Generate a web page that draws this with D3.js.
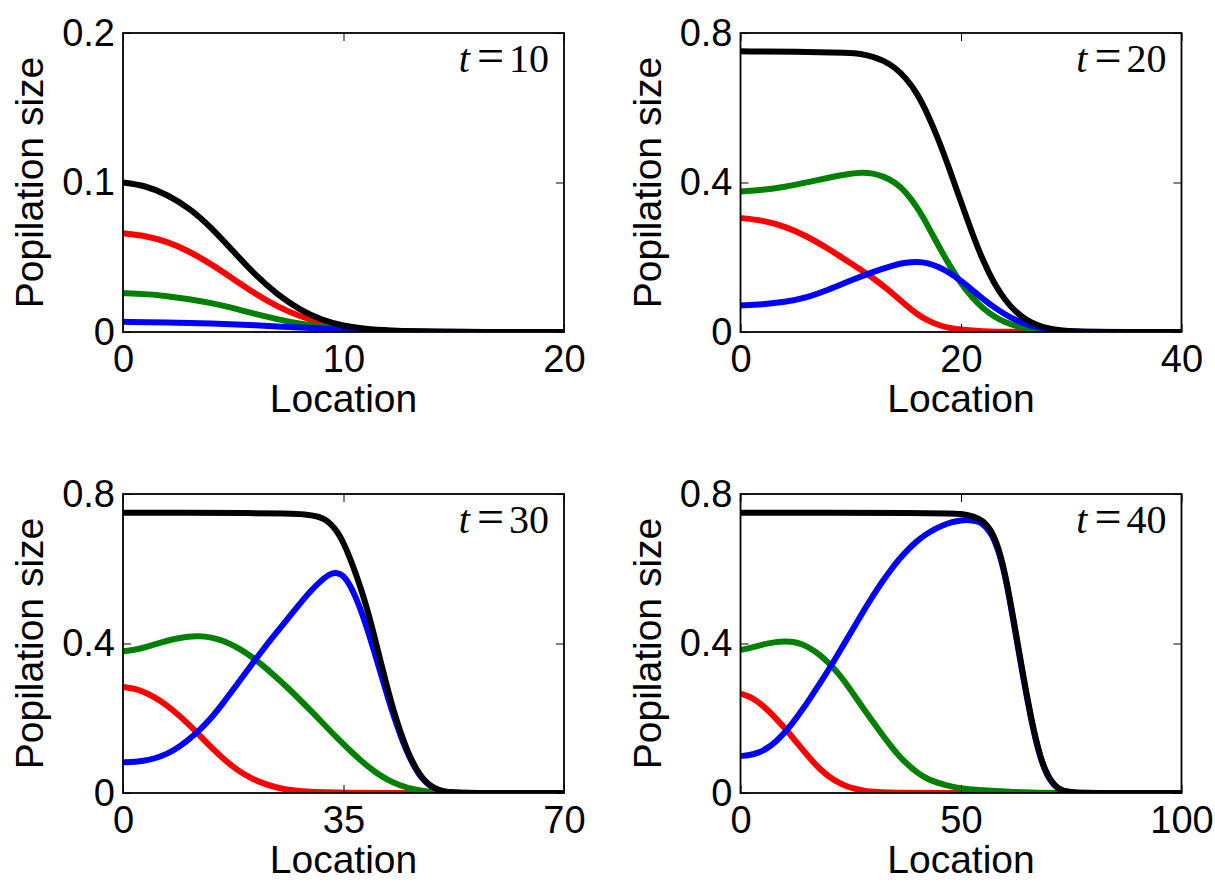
<!DOCTYPE html>
<html>
<head>
<meta charset="utf-8">
<script src="https://cdn.jsdelivr.net/npm/d3@7"></script>
<style>
  body { margin: 0; background: #fff; }
  svg text { font-family: "Liberation Sans", Arial, Helvetica, sans-serif; }
</style>
</head>
<body>
<svg id="chart" width="1215" height="883"></svg>
<script>
// ---- data: [location, population size] ----
var black10 = [[0,0.100],[1,0.098],[2,0.092],[3,0.083],[4,0.070],[5,0.054],[6,0.038],[7,0.025],[8,0.015],[9,0.008],[10,0.004],[11,0.002],[12,0.001],[14,0],[20,0]];
var red10   = [[0,0.066],[1,0.0645],[2,0.0605],[3,0.054],[4,0.0455],[5,0.0355],[6,0.0255],[7,0.017],[8,0.0105],[9,0.006],[10,0.003],[11,0.0013],[12,0.0005],[14,0],[20,0]];
var green10 = [[0,0.026],[1,0.0255],[2,0.024],[3,0.022],[4,0.0195],[5,0.016],[6,0.012],[7,0.0085],[8,0.0055],[9,0.0035],[10,0.002],[11,0.001],[13,0],[20,0]];
var blue10  = [[0,0.0068],[2,0.0065],[4,0.0058],[6,0.0045],[8,0.003],[10,0.0017],[12,0.0006],[14,0],[20,0]];

var black20 = [[0,0.751],[5,0.750],[10,0.747],[11,0.744],[12,0.737],[13,0.726],[14,0.708],[15,0.680],[16,0.640],[17,0.582],[18,0.512],[19,0.432],[20,0.348],[21,0.265],[22,0.190],[23,0.130],[24,0.085],[25,0.052],[26,0.031],[27,0.017],[28,0.009],[29,0.004],[30,0.002],[32,0],[40,0]];
var red20   = [[0,0.305],[2,0.299],[4,0.283],[6,0.257],[8,0.222],[9,0.203],[10,0.184],[11,0.165],[12,0.145],[13,0.122],[14,0.098],[15,0.072],[16,0.048],[17,0.030],[18,0.018],[19,0.010],[20,0.006],[22,0.002],[24,0],[40,0]];
var green20 = [[0,0.376],[2,0.380],[4,0.388],[6,0.400],[8,0.413],[10,0.424],[11,0.427],[12,0.425],[13,0.416],[14,0.401],[15,0.375],[16,0.335],[17,0.284],[18,0.228],[19,0.176],[20,0.130],[21,0.092],[22,0.063],[23,0.041],[24,0.026],[25,0.016],[26,0.009],[27,0.005],[28,0.002],[30,0],[40,0]];
var blue20  = [[0,0.071],[2,0.074],[4,0.080],[6,0.092],[8,0.113],[10,0.138],[12,0.161],[14,0.180],[15,0.186],[16,0.188],[17,0.185],[18,0.174],[19,0.158],[20,0.137],[21,0.113],[22,0.088],[23,0.066],[24,0.047],[25,0.031],[26,0.02],[27,0.012],[28,0.006],[29,0.003],[31,0],[40,0]];

var black30 = [[0,0.750],[10,0.750],[20,0.749],[26,0.748],[29,0.746],[31,0.740],[32,0.733],[33,0.720],[34,0.700],[35,0.670],[36,0.630],[37,0.585],[38,0.535],[39,0.478],[40,0.413],[41,0.345],[42,0.279],[43,0.218],[44,0.165],[45,0.119],[46,0.081],[47,0.052],[48,0.031],[49,0.017],[50,0.009],[51,0.004],[52,0.002],[54,0],[70,0]];
var red30   = [[0,0.284],[2,0.279],[4,0.266],[6,0.246],[8,0.221],[10,0.191],[12,0.157],[14,0.122],[16,0.090],[18,0.063],[20,0.042],[22,0.027],[24,0.016],[26,0.009],[28,0.005],[30,0.003],[34,0.001],[38,0],[70,0]];
var green30 = [[0,0.379],[2,0.383],[4,0.392],[6,0.403],[8,0.412],[10,0.418],[12,0.420],[14,0.417],[16,0.407],[18,0.391],[20,0.370],[22,0.344],[24,0.315],[26,0.284],[28,0.251],[30,0.217],[32,0.182],[34,0.147],[36,0.114],[38,0.083],[40,0.056],[42,0.035],[44,0.020],[46,0.010],[48,0.004],[50,0.0015],[52,0.0005],[54,0],[70,0]];
var blue30  = [[0,0.082],[2,0.083],[4,0.088],[6,0.097],[8,0.113],[10,0.137],[12,0.165],[14,0.200],[16,0.243],[18,0.288],[20,0.334],[22,0.379],[24,0.422],[26,0.463],[28,0.505],[30,0.545],[32,0.577],[33,0.587],[34,0.590],[35,0.582],[36,0.558],[37,0.522],[38,0.478],[39,0.427],[40,0.372],[41,0.315],[42,0.258],[43,0.204],[44,0.156],[45,0.113],[46,0.077],[47,0.049],[48,0.029],[49,0.016],[50,0.008],[51,0.004],[52,0.002],[54,0],[70,0]];

var black40 = [[0,0.750],[20,0.750],[40,0.749],[48,0.748],[50,0.747],[52,0.743],[54,0.734],[55,0.727],[56,0.715],[57,0.698],[58,0.672],[59,0.635],[60,0.585],[61,0.525],[62,0.458],[63,0.390],[64,0.322],[65,0.257],[66,0.196],[67,0.142],[68,0.098],[69,0.064],[70,0.040],[71,0.024],[72,0.013],[73,0.007],[74,0.004],[76,0.001],[78,0],[100,0]];
var red40   = [[0,0.266],[2,0.259],[4,0.244],[6,0.224],[8,0.200],[10,0.174],[12,0.146],[14,0.117],[16,0.089],[18,0.064],[20,0.044],[22,0.029],[24,0.018],[26,0.011],[28,0.006],[30,0.003],[34,0.001],[38,0],[100,0]];
var green40 = [[0,0.383],[2,0.387],[4,0.394],[6,0.400],[8,0.404],[10,0.406],[12,0.405],[14,0.398],[16,0.386],[18,0.370],[20,0.348],[22,0.323],[24,0.292],[26,0.258],[28,0.224],[30,0.191],[32,0.158],[34,0.127],[36,0.098],[38,0.075],[40,0.055],[42,0.040],[44,0.030],[46,0.023],[48,0.017],[50,0.012],[54,0.008],[58,0.005],[62,0.003],[66,0.001],[70,0],[100,0]];
var blue40  = [[0,0.099],[2,0.101],[4,0.107],[6,0.119],[8,0.137],[10,0.161],[12,0.190],[14,0.222],[16,0.257],[18,0.293],[20,0.330],[22,0.369],[24,0.409],[26,0.449],[28,0.489],[30,0.527],[32,0.563],[34,0.596],[36,0.626],[38,0.652],[40,0.674],[42,0.692],[44,0.706],[46,0.717],[48,0.725],[50,0.730],[52,0.731],[54,0.726],[55,0.719],[56,0.707],[57,0.690],[58,0.664],[59,0.628],[60,0.580],[61,0.520],[62,0.452],[63,0.384],[64,0.317],[65,0.252],[66,0.192],[67,0.139],[68,0.095],[69,0.062],[70,0.038],[71,0.023],[72,0.012],[73,0.006],[74,0.003],[76,0.001],[78,0],[100,0]];

var times   = [10, 20, 30, 40];
var xMaxes  = [20, 40, 70, 100];
var yMaxes  = [0.2, 0.8, 0.8, 0.8];
var xTicks  = [[0, 10, 20], [0, 20, 40], [0, 35, 70], [0, 50, 100]];
var yTicks  = [[0, 0.1, 0.2], [0, 0.4, 0.8], [0, 0.4, 0.8], [0, 0.4, 0.8]];
var seriesByPanel = [
    [red10, green10, blue10, black10],
    [red20, green20, blue20, black20],
    [red30, green30, blue30, black30],
    [red40, green40, blue40, black40]
];
var colors = ["#ff0000", "#008000", "#0000ff", "#000000"];

// ---- layout ----
var svg = d3.select("#chart"),
    W = 441, H = 299,
    origins = [[123, 33], [740.5, 33], [123, 494], [740.5, 494]];

var line = function (x, y) {
    return d3.line()
        .x(function (d) { return x(d[0]); })
        .y(function (d) { return y(d[1]); })
        .curve(d3.curveBasis);
};

times.forEach(function (t, i) {
    var g = svg.append("g").attr("transform", "translate(" + origins[i][0] + "," + origins[i][1] + ")");

    var x = d3.scaleLinear().domain([0, xMaxes[i]]).range([0, W]);
    var y = d3.scaleLinear().domain([0, yMaxes[i]]).range([H, 0]);

    svg.append("clipPath").attr("id", "clip" + i)
        .append("rect").attr("width", W).attr("height", H);

    // curves
    var lines = g.append("g").attr("clip-path", "url(#clip" + i + ")");
    seriesByPanel[i].forEach(function (s, k) {
        lines.append("path")
            .attr("fill", "none")
            .attr("stroke", colors[k])
            .attr("stroke-width", 6)
            .attr("stroke-linejoin", "round")
            .attr("d", line(x, y)(s));
    });

    var fmt = function (d) { return d === 0 ? "0" : String(d); };

    // axes, ticks pointing inward
    var bottom = g.append("g").attr("transform", "translate(0," + H + ")")
        .call(d3.axisBottom(x).tickValues(xTicks[i]).tickSize(-8).tickPadding(13).tickFormat(fmt));
    var left = g.append("g")
        .call(d3.axisLeft(y).tickValues(yTicks[i]).tickSize(-8).tickPadding(8).tickFormat(fmt));
    g.append("g").call(d3.axisTop(x).tickValues(xTicks[i]).tickSize(-8).tickFormat(""));
    g.append("g").attr("transform", "translate(" + W + ",0)")
        .call(d3.axisRight(y).tickValues(yTicks[i]).tickSize(-8).tickFormat(""));

    g.selectAll(".domain").remove();
    g.selectAll(".tick line").attr("stroke", "#000").attr("stroke-width", 1);
    [bottom, left].forEach(function (a) {
        a.attr("font-size", null).attr("font-family", null);
        a.selectAll("text").attr("fill", "#000").style("font-size", "38px");
    });

    // frame
    g.append("rect")
        .attr("width", W).attr("height", H)
        .attr("fill", "none").attr("stroke", "#000").attr("stroke-width", 1.8);

    // axis titles
    g.append("text")
        .attr("x", W / 2).attr("y", H + 80)
        .attr("text-anchor", "middle")
        .style("font-size", "39px")
        .text("Location");
    g.append("text")
        .attr("transform", "translate(-80," + (H / 2) + ") rotate(-90)")
        .attr("text-anchor", "middle")
        .style("font-size", "39px")
        .text("Popilation size");

    // time label
    var tl = g.append("text")
        .attr("x", W - 15).attr("y", 39)
        .attr("text-anchor", "end")
        .style("font-family", "'Liberation Serif', 'DejaVu Serif', serif")
        .style("font-size", "40px");
    tl.append("tspan").style("font-style", "italic").text("t");
    tl.append("tspan").attr("dx", 7).style("font-size", "48px").text("=");
    tl.append("tspan").attr("dx", 5).text(t);
});
</script>
</body>
</html>
